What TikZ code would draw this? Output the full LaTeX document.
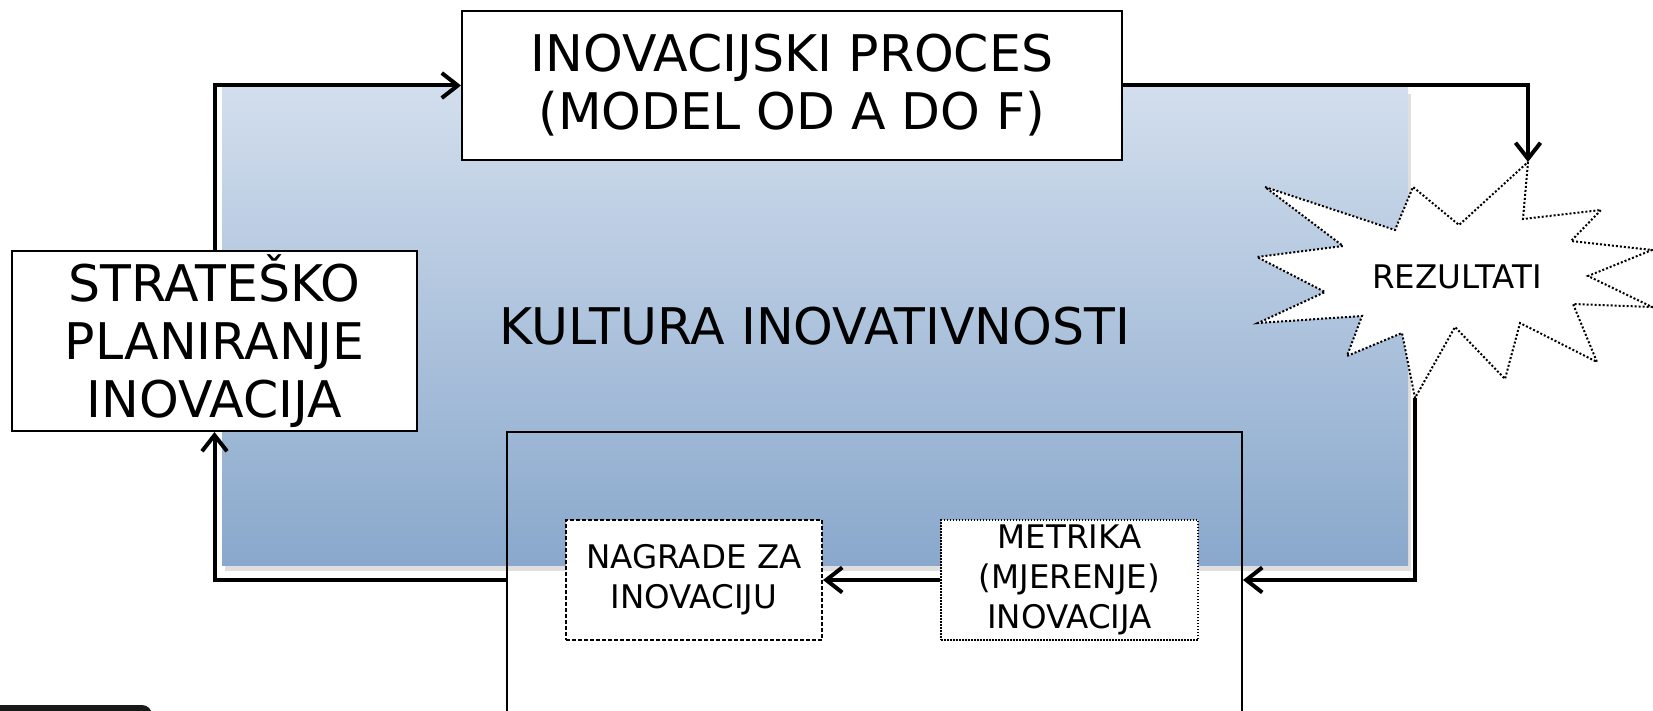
\documentclass[tikz,border=0pt]{standalone}
\usepackage{fontspec}
\setmainfont{DejaVu Sans}
\usetikzlibrary{arrows.meta,shadows}

\begin{document}
\begin{tikzpicture}[x=1pt,y=-1pt,
   font=\fontsize{50.5}{58}\selectfont,
   every node/.style={align=center,inner sep=0pt},
   culture/.style={minimum width=1186pt,minimum height=477pt,
      top color={rgb,255:red,210;green,222;blue,237},
      bottom color={rgb,255:red,137;green,168;blue,204},
      drop shadow={shadow xshift=3pt,shadow yshift=-6pt,opacity=0.25}},
   box/.style={draw,line width=2pt,fill=white},
   small/.style={font=\fontsize{32.5}{40}\selectfont},
   dashbox/.style={draw,fill=white,line width=2pt,dash pattern=on 4pt off 2pt,small},
   dotbox/.style={draw,fill=white,line width=1.5pt,dash pattern=on 1.5pt off 1.5pt,small},
   burst/.style={draw,fill=white,line width=2pt,dash pattern=on 2pt off 2pt},
   flow/.style={-{Straight Barb[length=16pt,width=25pt]},line width=4pt}]
\clip (0,0) rectangle (1653,711);
\node[culture] (kultura) at (815,326.5) {KULTURA INOVATIVNOSTI};
\node[draw,line width=2pt,minimum width=735pt,minimum height=320pt,anchor=north] (okvir) at (874.5,431) {};
\node[box,minimum width=660pt,minimum height=149pt] (proces) at (792,85.5) {INOVACIJSKI PROCES\\(MODEL OD A DO F)};
\node[box,minimum width=405pt,minimum height=180pt] (plan) at (214.5,341) {STRATEŠKO\\PLANIRANJE\\INOVACIJA};
\node[dashbox,minimum width=256pt,minimum height=120pt] (nagrade) at (694,580) {NAGRADE ZA\\INOVACIJU};
\node[dotbox,minimum width=257pt,minimum height=120pt] (metrika) at (1069.5,580) {METRIKA\\(MJERENJE)\\INOVACIJA};
\draw[burst] (1528,162) -- (1523,219) -- (1601,210) -- (1571,241) -- (1652,250) -- (1588,276)
   -- (1652,307) -- (1573,304) -- (1597,362) -- (1520,323) -- (1505,379) -- (1455,327)
   -- (1415,398) -- (1402,333) -- (1347,356) -- (1362,316) -- (1258,323) -- (1325,292)
   -- (1257,257) -- (1343,246) -- (1265,187) -- (1395,230) -- (1413,187) -- (1459,225) -- cycle;
\coordinate (burst-top) at (1528,162);
\coordinate (burst-bottom) at (1415,398);
\node[small] (rezultati) at (1457,277) {REZULTATI};
\fill[black!90,rounded corners=10pt] (-20,705) rectangle (152,740);
\draw[flow] (plan.north) |- (proces.west);
\draw[flow] (proces.east) -| (burst-top);
\draw[flow] (burst-bottom) |- (metrika.east -| okvir.east);
\draw[flow] (metrika.west) -- (nagrade.east);
\draw[flow] (okvir.west |- nagrade.east) -| (plan.south);
\end{tikzpicture}
\end{document}
